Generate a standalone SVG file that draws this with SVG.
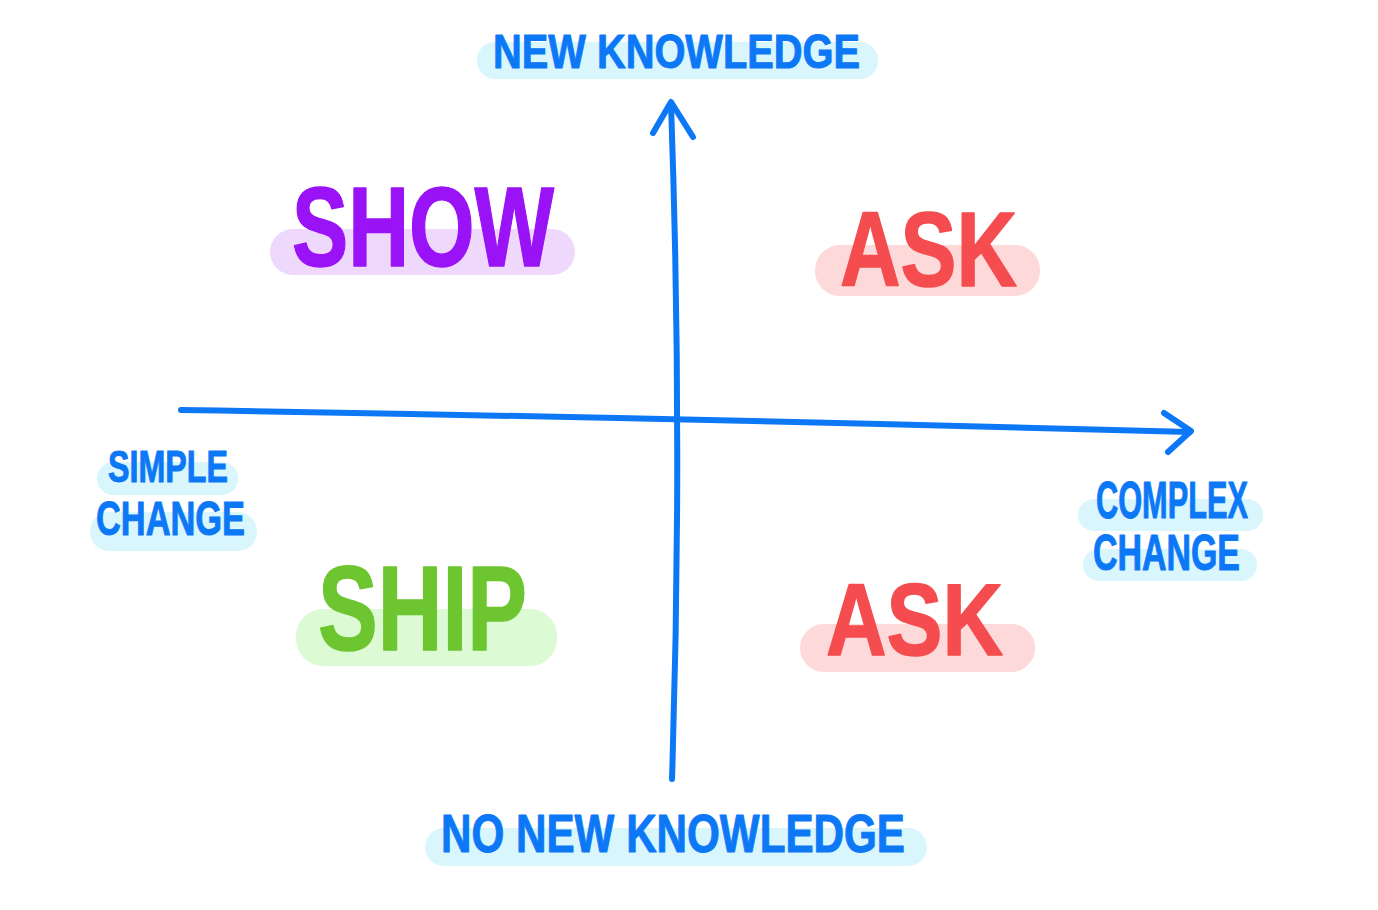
<svg xmlns="http://www.w3.org/2000/svg" width="1378" height="910" viewBox="0 0 1378 910">
<style>
.t{font-family:"Liberation Sans","DejaVu Sans",sans-serif;font-weight:bold;stroke-linejoin:round;stroke-linecap:round}
.blue{fill:#0c78f6;stroke:#0c78f6;stroke-width:1}
.purple{fill:#9a12f6;stroke:#9a12f6;stroke-width:1.5}
.red{fill:#f54c4f;stroke:#f54c4f;stroke-width:1.5}
.green{fill:#6dc530;stroke:#6dc530;stroke-width:1.5}
.hb{fill:#d9f6fd}
.hp{fill:#eed8fb}
.hr{fill:#fdd9d9}
.hg{fill:#dcfad4}
.ax{fill:none;stroke:#0c78f6;stroke-width:6;stroke-linecap:round;stroke-linejoin:round}
</style>
<rect width="1378" height="910" fill="#ffffff"/>
<g id="connectors">
<path class="ax" d="M672,779 Q683,440 671,104"/>
<path class="ax" d="M653,133 L671,102 L693,137"/>
<path class="ax" d="M181,410 Q680,418 1190,432"/>
<path class="ax" d="M1164,413 L1191,431 L1168,452"/>
</g>
<g id="new-knowledge">
<rect class="hb" x="477" y="42" width="401" height="37" rx="18"/>
<text class="t blue" x="493" y="68" font-size="49" textLength="367" lengthAdjust="spacingAndGlyphs">NEW KNOWLEDGE</text>
</g>
<g id="no-new-knowledge">
<rect class="hb" x="425" y="828" width="502" height="38" rx="19"/>
<text class="t blue" x="441" y="852" font-size="53" textLength="464" lengthAdjust="spacingAndGlyphs">NO NEW KNOWLEDGE</text>
</g>
<g id="simple-change">
<rect class="hb" x="97" y="462" width="141" height="33" rx="16"/>
<rect class="hb" x="90" y="512" width="167" height="39" rx="19"/>
<text class="t blue" x="108" y="482" font-size="45" textLength="120" lengthAdjust="spacingAndGlyphs">SIMPLE</text>
<text class="t blue" x="96" y="535" font-size="49" textLength="149" lengthAdjust="spacingAndGlyphs">CHANGE</text>
</g>
<g id="complex-change">
<rect class="hb" x="1078" y="499" width="185" height="32" rx="16"/>
<rect class="hb" x="1083" y="549" width="174" height="32" rx="16"/>
<text class="t blue" x="1096" y="518" font-size="51" textLength="152" lengthAdjust="spacingAndGlyphs">COMPLEX</text>
<text class="t blue" x="1093" y="570" font-size="50" textLength="147" lengthAdjust="spacingAndGlyphs">CHANGE</text>
</g>
<g id="show">
<rect class="hp" x="270" y="229" width="305" height="46" rx="23"/>
<text class="t purple" x="292" y="266" font-size="114" textLength="262" lengthAdjust="spacingAndGlyphs">SHOW</text>
</g>
<g id="ask-top">
<rect class="hr" x="815" y="245" width="225" height="51" rx="25"/>
<text class="t red" x="840" y="286" font-size="106" textLength="177" lengthAdjust="spacingAndGlyphs">ASK</text>
</g>
<g id="ship">
<rect class="hg" x="296" y="609" width="261" height="57" rx="27"/>
<text class="t green" x="318" y="650" font-size="120" textLength="209" lengthAdjust="spacingAndGlyphs">SHIP</text>
</g>
<g id="ask-bottom">
<rect class="hr" x="800" y="624" width="235" height="48" rx="24"/>
<text class="t red" x="826" y="655" font-size="102" textLength="177" lengthAdjust="spacingAndGlyphs">ASK</text>
</g>
</svg>
